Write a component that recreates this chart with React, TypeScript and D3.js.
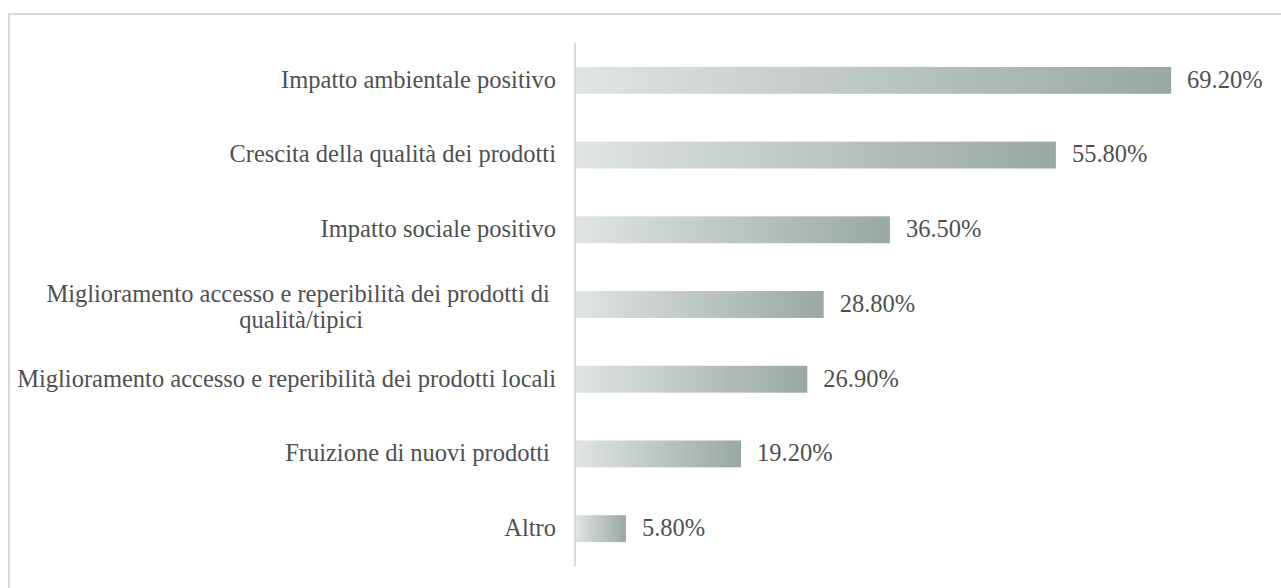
import React, { useEffect, useRef } from 'react'
import * as d3 from 'd3'

const categories: string[][] = [
  ['Impatto ambientale positivo'],
  ['Crescita della qualità dei prodotti'],
  ['Impatto sociale positivo'],
  ['Miglioramento accesso e reperibilità dei prodotti di ', 'qualità/tipici'],
  ['Miglioramento accesso e reperibilità dei prodotti locali'],
  ['Fruizione di nuovi prodotti '],
  ['Altro'],
]
const values: number[] = [69.2, 55.8, 36.5, 28.8, 26.9, 19.2, 5.8]
const valueLabels: string[] = ['69.20%', '55.80%', '36.50%', '28.80%', '26.90%', '19.20%', '5.80%']

const W = 1281
const H = 588

export default function App() {
  const ref = useRef<SVGSVGElement>(null)

  useEffect(() => {
    const svg = d3.select(ref.current)
    svg.selectAll('*').remove()

    const font = '"Liberation Serif", "Times New Roman", serif'
    const textColor = '#505050'
    const fontSize = 24.5

    // dégradé par barre
    const defs = svg.append('defs')
    const grad = defs.append('linearGradient')
      .attr('id', 'barGrad')
      .attr('x1', '0%').attr('x2', '100%')
      .attr('y1', '0%').attr('y2', '0%')
    grad.append('stop').attr('offset', '0%').attr('stop-color', '#e0e4e5')
    grad.append('stop').attr('offset', '100%').attr('stop-color', '#98a8a5')

    // cadre
    svg.append('rect')
      .attr('x', 9).attr('y', 14)
      .attr('width', W + 20).attr('height', H + 20)
      .attr('fill', 'none')
      .attr('stroke', '#d9d9d9')
      .attr('stroke-width', 2)

    const idx = d3.range(values.length)
    const y = d3.scaleBand<number>()
      .domain(idx)
      .range([43, 566])
      .paddingInner(0.64)
      .paddingOuter(0.32)

    const x = d3.scaleLinear()
      .domain([0, 100])
      .range([576, 576 + 860])

    svg.append('g')
      .selectAll('rect')
      .data(values)
      .enter()
      .append('rect')
      .attr('x', x(0))
      .attr('y', (d, i) => y(i)!)
      .attr('width', d => x(d) - x(0))
      .attr('height', y.bandwidth())
      .attr('fill', 'url(#barGrad)')

    // axe vertical
    svg.append('line')
      .attr('x1', 575).attr('x2', 575)
      .attr('y1', 43).attr('y2', 566)
      .attr('stroke', '#d9d9d9')
      .attr('stroke-width', 2)

    // étiquettes des valeurs
    svg.append('g')
      .selectAll('text')
      .data(values)
      .enter()
      .append('text')
      .attr('x', d => x(d) + 16)
      .attr('y', (d, i) => y(i)! + y.bandwidth() / 2)
      .attr('dy', '0.3em')
      .attr('font-family', font)
      .attr('font-size', fontSize)
      .attr('fill', textColor)
      .text((d, i) => valueLabels[i])

    // catégories (plusieurs lignes : centrées entre elles)
    const right = 556
    const lineH = 26
    const cat = svg.append('g')
      .selectAll('text')
      .data(categories)
      .enter()
      .append('text')
      .attr('font-family', font)
      .attr('font-size', fontSize)
      .attr('fill', textColor)
      .style('white-space', 'pre')
      .attr('y', (d, i) => y(i)! + y.bandwidth() / 2 - (d.length - 1) * 10)

    cat.each(function (lines) {
      const t = d3.select(this)
      if (lines.length === 1) {
        t.attr('text-anchor', 'end')
        t.append('tspan').attr('x', right).attr('dy', '0.3em').text(lines[0])
        return
      }
      t.attr('text-anchor', 'middle')
      const spans = lines.map((line, j) =>
        t.append('tspan')
          .attr('dy', j === 0 ? '0.3em' : lineH)
          .text(line))
      const maxW = d3.max(spans, s => (s.node() as SVGTSpanElement).getComputedTextLength()) || 0
      spans.forEach(s => s.attr('x', right - maxW / 2))
    })
  }, [])

  return (
    <svg ref={ref} width={W} height={H} style={{ position: 'absolute', left: 0, top: 0 }} />
  )
}
